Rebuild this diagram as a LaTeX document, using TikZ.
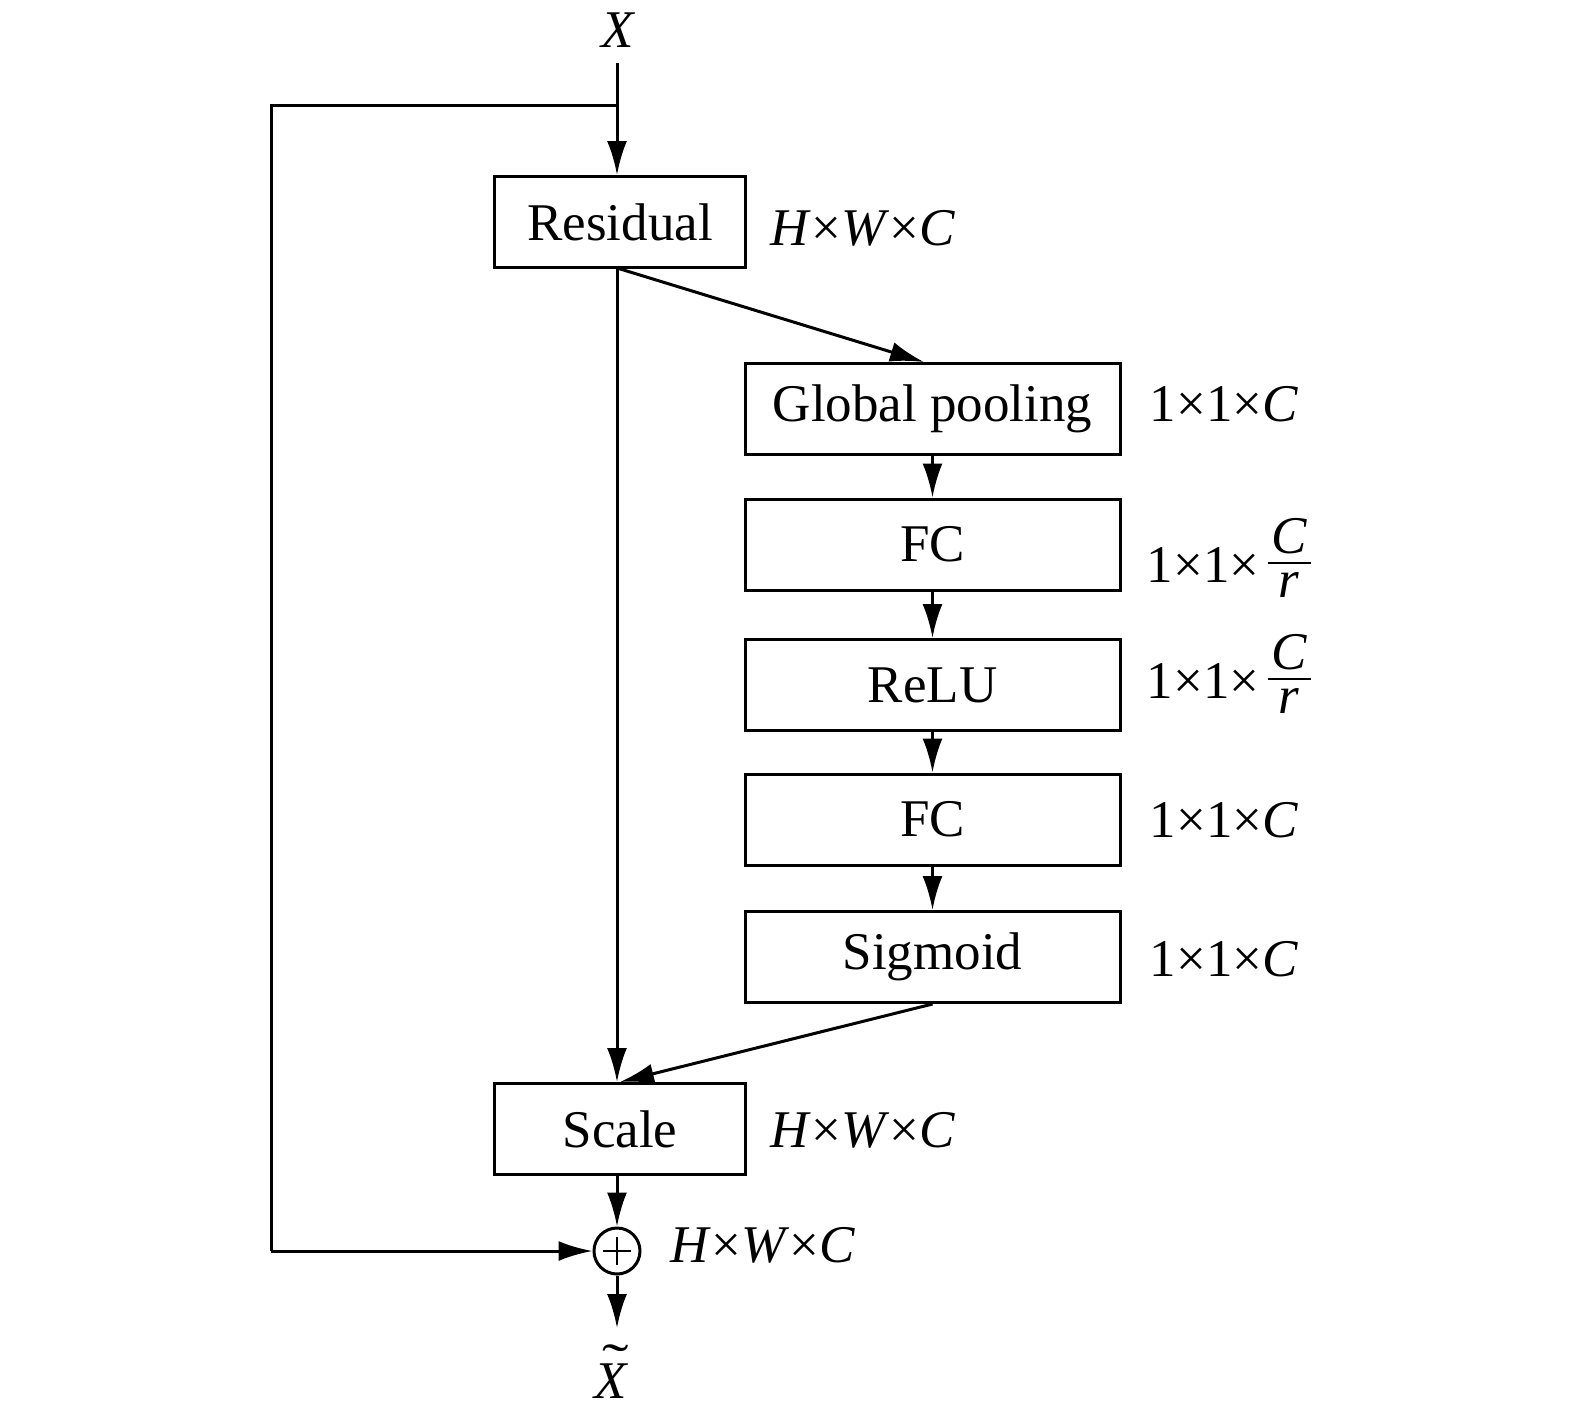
\documentclass[tikz,border=0pt]{standalone}
\usepackage{fontspec}
\setmainfont{Liberation Serif}
\usetikzlibrary{arrows.meta,calc}
\newcommand{\itx}[1]{\textit{#1}}
\newcommand{\fracCr}{\kern0.15em\raisebox{-7.5pt}{\vbox{\offinterlineskip\halign{\hfil##\hfil\cr\itx{C}\cr\noalign{\kern3.8pt}\rule{0.82em}{1.4pt}\cr\noalign{\kern3.8pt}\itx{r}\cr}}}}
\newcommand{\Xtilde}{\itx{X}\llap{\raisebox{9pt}{\scalebox{1.5}[1]{\char"02DC}}}}
\begin{document}
\begin{tikzpicture}[x=0.5pt,y=-0.5pt,
  font=\fontsize{26.5}{32}\selectfont,
  line width=1.5pt,
  box/.style={draw,line width=1.5pt,inner sep=0pt,minimum height=45.5pt},
  widebox/.style={box,minimum width=187.5pt},
  narrowbox/.style={box,minimum width=125.5pt},
  lbl/.style={inner sep=0pt,anchor=base},
  arr/.style={-{Latex[length=17pt,width=10pt]}}]
\useasboundingbox (0,0) rectangle (1575,1421);

\node[lbl] (x) at (619,47) {\itx{X}};
\node[narrowbox] (res) at (620,222) {Residual};
\node[widebox] (gp) at (932.5,409) {Global pooling};
\node[widebox] (fc1) at (932.5,544.5) {FC};
\node[widebox] (relu) at (932.5,685) {ReLU};
\node[widebox] (fc2) at (932.5,819.5) {FC};
\node[widebox] (sig) at (932.5,957) {Sigmoid};
\node[narrowbox] (scale) at (620,1129) {Scale};
\node[draw,circle,minimum size=23pt,inner sep=0pt,line width=1.5pt] (plus) at (617,1251) {};
\draw[line width=0.8pt] ($(plus.center)+(-14,0)$) -- ($(plus.center)+(14,0)$);
\draw[line width=0.8pt] ($(plus.center)+(0,-14)$) -- ($(plus.center)+(0,14)$);
\node[lbl] (xt) at (612,1398) {\Xtilde};

\node[lbl] (l1) at (863,245) {\itx{H}×\itx{W}×\itx{C}};
\node[lbl] (l2) at (1224,421) {1×1×\itx{C}};
\node[lbl] (l3) at (1229,582) {1×1×\fracCr};
\node[lbl] (l4) at (1229,698) {1×1×\fracCr};
\node[lbl] (l5) at (1224,837) {1×1×\itx{C}};
\node[lbl] (l6) at (1224,976) {1×1×\itx{C}};
\node[lbl] (l7) at (863,1147) {\itx{H}×\itx{W}×\itx{C}};
\node[lbl] (l8) at (763,1262) {\itx{H}×\itx{W}×\itx{C}};

\coordinate (xs) at (617,63);
\coordinate (br) at (617,105.5);
\coordinate (bl) at (271,105.5);
\coordinate (bb) at (271,1251);
\coordinate (rs) at (617,268);
\coordinate (out) at (617,1328);

\draw[arr] (xs) -- (res.north -| xs);
\draw (br) -- (bl) -- (bb);
\draw[arr] (bb) -- (plus.west);
\draw[arr] (rs) -- ([xshift=-4.25pt]gp.north);
\draw[arr] (rs) -- (scale.north -| rs);
\draw[arr] (gp.south) -- (fc1.north);
\draw[arr] (fc1.south) -- (relu.north);
\draw[arr] (relu.south) -- (fc2.north);
\draw[arr] (fc2.south) -- (sig.north);
\draw[arr] (sig.south) -- (scale.north);
\draw[arr] (scale.south -| plus) -- (plus.north);
\draw[arr] (plus.south) -- (out);
\end{tikzpicture}
\end{document}
